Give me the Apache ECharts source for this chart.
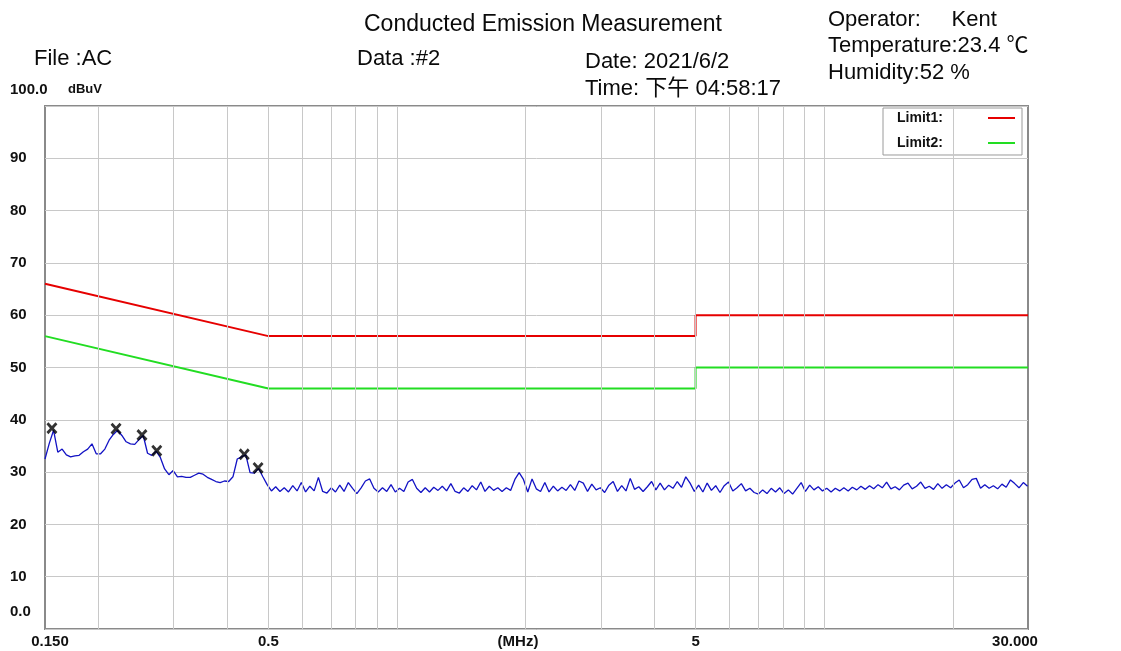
<!DOCTYPE html>
<html>
<head>
<meta charset="utf-8">
<script src="https://cdn.jsdelivr.net/npm/echarts@6/dist/echarts.min.js"></script>
<style>
  html, body { margin: 0; padding: 0; background: #fff; }
  #chart { width: 1121px; height: 651px; }
</style>
</head>
<body>
<div id="chart"></div>
<script>
// Conducted emission sweep, 0.15 - 30 MHz, AC line
const traceFreq = [
  0.1500,0.1535,0.1571,0.1607,0.1645,0.1683,0.1722,0.1762,0.1803,0.1845,0.1888,0.1932,0.1977,0.2024,0.2071,0.2119,0.2168,0.2219,0.2270,0.2323,
  0.2377,0.2433,0.2489,0.2547,0.2607,0.2667,0.2730,0.2793,0.2858,0.2925,0.2993,0.3063,0.3134,0.3207,0.3282,0.3358,0.3436,0.3516,0.3598,0.3682,
  0.3768,0.3856,0.3945,0.4037,0.4131,0.4228,0.4326,0.4427,0.4530,0.4635,0.4743,0.4854,0.4967,0.5083,0.5201,0.5322,0.5446,0.5573,0.5703,0.5836,
  0.5972,0.6111,0.6253,0.6399,0.6548,0.6700,0.6856,0.7016,0.7179,0.7347,0.7518,0.7693,0.7872,0.8055,0.8243,0.8435,0.8632,0.8833,0.9038,0.9249,
  0.9464,0.9685,0.9910,1.0141,1.0377,1.0619,1.0867,1.1120,1.1379,1.1644,1.1915,1.2192,1.2476,1.2767,1.3064,1.3369,1.3680,1.3999,1.4325,1.4659,
  1.500,1.535,1.571,1.607,1.645,1.683,1.722,1.762,1.803,1.845,1.888,1.932,1.977,2.024,2.071,2.119,2.168,2.219,2.270,2.323,
  2.377,2.433,2.489,2.547,2.607,2.667,2.730,2.793,2.858,2.925,2.993,3.063,3.134,3.207,3.282,3.358,3.436,3.516,3.598,3.682,
  3.768,3.856,3.945,4.037,4.131,4.228,4.326,4.427,4.530,4.635,4.743,4.854,4.967,5.083,5.201,5.322,5.446,5.573,5.703,5.836,
  5.972,6.111,6.253,6.399,6.548,6.700,6.856,7.016,7.179,7.347,7.518,7.693,7.872,8.055,8.243,8.435,8.632,8.833,9.038,9.249,
  9.464,9.685,9.910,10.14,10.38,10.62,10.87,11.12,11.38,11.64,11.92,12.19,12.48,12.77,13.06,13.37,13.68,14.00,14.33,14.66,
  15.00,15.35,15.71,16.07,16.45,16.83,17.22,17.62,18.03,18.45,18.88,19.32,19.77,20.24,20.71,21.19,21.68,22.19,22.70,23.23,
  23.77,24.33,24.89,25.47,26.07,26.67,27.30,27.93,28.58,29.25,29.93
];
const traceLevel = [
  32.5,35.5,38.0,33.8,34.4,33.3,32.9,33.1,33.2,33.9,34.4,35.4,33.5,33.5,34.4,36.1,37.2,38.0,37.0,35.8,
  35.4,35.3,36.2,37.0,33.6,33.2,34.0,32.8,30.6,29.5,30.3,29.1,29.2,29.0,29.0,29.4,29.8,29.6,29.0,28.6,
  28.2,28.0,28.3,28.2,29.1,32.5,32.9,33.3,29.9,29.8,30.7,29.1,27.6,26.4,27.2,26.3,27.0,26.2,27.4,26.4,
  28.0,26.2,27.3,26.4,29.0,26.3,26.0,27.0,26.2,27.5,26.3,28.0,26.9,25.9,27.0,28.3,28.7,26.9,26.2,27.0,
  26.3,27.6,26.2,26.9,26.3,28.1,28.6,26.9,26.1,27.0,26.2,27.1,26.5,27.3,26.4,27.8,26.3,26.0,27.0,26.3,
  27.4,26.6,28.1,26.3,27.3,26.5,27.0,26.3,27.0,26.5,28.6,29.9,28.6,26.2,28.7,26.8,26.3,28.0,26.2,27.3,
  26.4,27.1,26.5,27.6,26.5,28.3,27.9,26.3,27.7,26.6,27.0,26.1,27.5,28.2,26.3,27.4,26.4,28.8,26.7,27.2,
  26.3,27.2,28.2,26.6,27.9,26.6,27.5,26.9,28.2,27.1,29.1,27.9,26.3,27.5,26.2,27.9,26.5,27.4,26.1,27.4,
  28.1,26.4,27.0,27.8,26.4,26.9,26.1,25.8,26.6,25.9,26.9,26.2,27.0,25.9,26.6,25.8,26.9,28.0,26.3,27.5,
  26.6,27.2,26.4,26.9,26.2,26.9,26.4,27.0,26.4,27.1,26.6,27.3,26.7,27.4,26.8,27.6,27.0,28.1,26.8,27.2,
  26.6,27.5,27.9,26.8,27.3,28.1,26.9,27.3,26.7,27.8,26.9,27.6,27.0,27.9,28.5,27.0,27.6,28.6,28.8,26.9,
  27.6,26.9,27.4,26.8,27.7,27.1,28.5,27.8,27.0,28.0,27.3
];

// Peak markers
const markerFreq = [0.1557, 0.2200, 0.2530, 0.2740, 0.4390, 0.4730];
const markerLevel = [38.4, 38.3, 37.1, 34.1, 33.4, 30.8];

// Limit lines (quasi-peak / average)
const limit1Freq = [0.15, 0.5, 5, 5, 30];
const limit1Level = [66, 56, 56, 60, 60];
const limit2Freq = [0.15, 0.5, 5, 5, 30];
const limit2Level = [56, 46, 46, 50, 50];

// Axis ticks and grid
const gridFreq = [0.2, 0.3, 0.4, 0.5, 0.6, 0.7, 0.8, 0.9, 1, 2, 3, 4, 5, 6, 7, 8, 9, 10, 20];
const xTickValues = [0.15, 0.5, 5, 30];
const xTickLabels = ['0.150', '0.5', '5', '30.000'];
const yTickValues = [0, 10, 20, 30, 40, 50, 60, 70, 80, 90, 100];
const yTickLabels = ['0.0', '10', '20', '30', '40', '50', '60', '70', '80', '90', '100.0'];

// Header lines
const headerLines = [
  { text: 'Conducted Emission Measurement', x: 364, y: 25, size: 23 },
  { text: 'File :AC', x: 34, y: 59, size: 22 },
  { text: 'Data :#2', x: 357, y: 59, size: 22 },
  { text: 'Date: 2021/6/2', x: 585, y: 62, size: 22 },
  { text: 'Time: 下午 04:58:17', x: 585, y: 89, size: 22 },
  { text: 'Operator:     Kent', x: 828, y: 20, size: 22 },
  { text: 'Temperature:23.4 ℃', x: 828, y: 46, size: 22 },
  { text: 'Humidity:52 %', x: 828, y: 73, size: 22 }
];

const SANS = '"Liberation Sans", Arial, "Noto Sans CJK SC", sans-serif';
const LABEL_STYLE = { fontFamily: SANS, fontWeight: 'bold', fontSize: 15, color: '#111' };

const pairs = (xs, ys) => xs.map((x, i) => [x, ys[i]]);
const nearestIndex = (v, values) => {
  let best = 0;
  for (let i = 1; i < values.length; i++) {
    if (Math.abs(Math.log(values[i] / v)) < Math.abs(Math.log(values[best] / v))) best = i;
  }
  return best;
};

const chart = echarts.init(document.getElementById('chart'), null, { renderer: 'canvas' });

chart.setOption({
  animation: false,
  backgroundColor: '#ffffff',
  grid: {
    left: 45, top: 106, right: 93, bottom: 22,
    containLabel: false,
    outerBoundsMode: 'none',
    show: true, borderColor: '#8a8a8a', borderWidth: 2, backgroundColor: '#ffffff'
  },
  xAxis: {
    type: 'log',
    logBase: 10,
    min: 0.15,
    max: 30,
    axisLine: { show: false },
    axisTick: { show: false },
    splitLine: { show: false },
    name: '(MHz)',
    nameLocation: 'middle',
    nameGap: 5,
    nameMoveOverlap: false,
    nameTextStyle: {
      fontFamily: SANS, fontWeight: 'bold', fontSize: 15, color: '#111',
      verticalAlign: 'top', padding: [0, 37, 0, 0]
    },
    axisLabel: {
      customValues: xTickValues,
      margin: 5,
      ...LABEL_STYLE,
      formatter: v => {
        const i = nearestIndex(v, xTickValues);
        if (i === 0) return '{first|' + xTickLabels[i] + '}';
        if (i === xTickValues.length - 1) return '{last|' + xTickLabels[i] + '}';
        return xTickLabels[i];
      },
      rich: {
        first: { ...LABEL_STYLE, padding: [0, 0, 0, 10] },
        last: { ...LABEL_STYLE, padding: [0, 26, 0, 0] }
      }
    }
  },
  yAxis: {
    type: 'value',
    min: 0,
    max: 100,
    interval: 10,
    axisLine: { show: false },
    axisTick: { show: false },
    splitLine: { show: true, lineStyle: { color: '#c8c8c8', width: 1 } },
    axisLabel: {
      align: 'left',
      margin: 35,
      ...LABEL_STYLE,
      formatter: v => {
        const i = yTickValues.indexOf(v);
        const t = i >= 0 ? yTickLabels[i] : String(v);
        if (v === 0) return '{lo|' + t + '}';
        if (v === 100) return '{hi|' + t + '}';
        return t;
      },
      rich: {
        lo: { ...LABEL_STYLE, padding: [0, 0, 34, 0] },
        hi: { ...LABEL_STYLE, padding: [0, 0, 32, 0] }
      }
    }
  },
  legend: {
    orient: 'vertical',
    left: 883,
    top: 108,
    align: 'right',
    padding: [3, 7, 5, 14],
    itemGap: 11,
    itemWidth: 27,
    itemHeight: 2,
    backgroundColor: '#ffffff',
    borderColor: '#9a9a9a',
    borderWidth: 1,
    borderRadius: 0,
    selectedMode: false,
    data: [{ name: 'Limit1', icon: 'rect' }, { name: 'Limit2', icon: 'rect' }],
    formatter: name => '{t|' + name + ':}',
    textStyle: {
      rich: {
        t: { fontFamily: SANS, fontWeight: 'bold', fontSize: 14, color: '#111', width: 86, align: 'left', lineHeight: 16 }
      }
    }
  },
  graphic: headerLines.map(h => ({
    type: 'text',
    x: h.x,
    y: h.y,
    silent: true,
    style: {
      text: h.text,
      font: 'normal ' + h.size + 'px ' + SANS,
      fill: '#0a0a0a',
      verticalAlign: 'middle',
      textVerticalAlign: 'middle'
    }
  })).concat([{
    type: 'text',
    x: 68,
    y: 89,
    silent: true,
    style: {
      text: 'dBuV',
      font: 'bold 13px ' + SANS,
      fill: '#111',
      verticalAlign: 'middle',
      textVerticalAlign: 'middle'
    }
  }]),
  series: [
    {
      name: 'gridlines',
      type: 'line',
      data: [],
      silent: true,
      z: 1,
      markLine: {
        silent: true,
        symbol: 'none',
        animation: false,
        label: { show: false },
        lineStyle: { color: '#c8c8c8', width: 1, type: 'solid' },
        emphasis: { disabled: true },
        data: gridFreq.map(f => ({ xAxis: f }))
      }
    },
    {
      name: 'Trace',
      type: 'line',
      data: pairs(traceFreq, traceLevel),
      showSymbol: false,
      symbol: 'none',
      silent: true,
      z: 3,
      lineStyle: { color: '#1212c4', width: 1.3 }
    },
    {
      name: 'Limit1',
      type: 'line',
      data: pairs(limit1Freq, limit1Level),
      showSymbol: false,
      symbol: 'none',
      silent: true,
      z: 4,
      color: '#e60000',
      lineStyle: { color: '#e60000', width: 2 }
    },
    {
      name: 'Limit2',
      type: 'line',
      data: pairs(limit2Freq, limit2Level),
      showSymbol: false,
      symbol: 'none',
      silent: true,
      z: 4,
      color: '#22dd22',
      lineStyle: { color: '#22dd22', width: 2 }
    },
    {
      name: 'Peaks',
      type: 'scatter',
      data: pairs(markerFreq, markerLevel),
      symbol: 'path://M0,1.8L1.8,0L5,3.2L8.2,0L10,1.8L6.8,5L10,8.2L8.2,10L5,6.8L1.8,10L0,8.2L3.2,5Z',
      symbolSize: [11, 12],
      silent: true,
      z: 5,
      itemStyle: { color: '#000000' }
    }
  ]
});
</script>
</body>
</html>
